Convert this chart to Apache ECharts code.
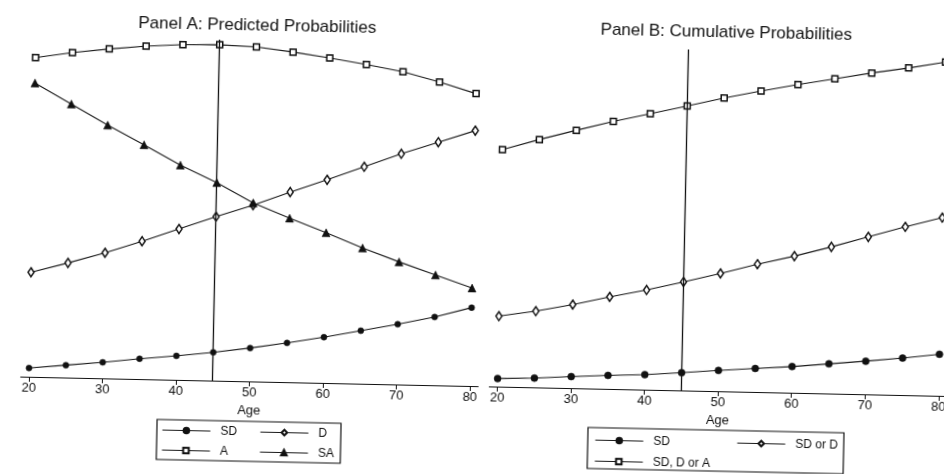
<!DOCTYPE html>
<html>
<head>
<meta charset="utf-8">
<script src="https://cdn.jsdelivr.net/npm/echarts@6/dist/echarts.min.js"></script>
<style>
  html, body { margin: 0; padding: 0; background: #fff; overflow: hidden; width: 944px; height: 474px; }
  #chart { width: 970px; height: 474px; transform: rotate(1.2deg); transform-origin: 472px 237px; }
</style>
</head>
<body>
<div id="chart"></div>
<script>
// Ages at which the model is evaluated, and the labelled ticks
const ages = [20, 25, 30, 35, 40, 45, 50, 55, 60, 65, 70, 75, 80];
const ageTicks = [20, 30, 40, 50, 60, 70, 80];
const refAge = 45;

// Panel A: predicted probability of each response
const probSD = [0.012, 0.017, 0.022, 0.028, 0.033, 0.039, 0.046, 0.054, 0.063, 0.073, 0.083, 0.094, 0.108];
const probD  = [0.144, 0.158, 0.173, 0.190, 0.208, 0.226, 0.243, 0.262, 0.280, 0.299, 0.318, 0.335, 0.352];
const probA  = [0.440, 0.448, 0.454, 0.459, 0.462, 0.463, 0.461, 0.455, 0.448, 0.440, 0.431, 0.418, 0.403];
const probSA = [0.405, 0.377, 0.349, 0.323, 0.296, 0.273, 0.246, 0.226, 0.207, 0.187, 0.169, 0.152, 0.135];

// Panel B: cumulative probabilities
const cumSD     = [0.021, 0.024, 0.030, 0.035, 0.039, 0.046, 0.054, 0.061, 0.068, 0.077, 0.086, 0.096, 0.108];
const cumSDorD  = [0.183, 0.198, 0.217, 0.239, 0.259, 0.282, 0.306, 0.332, 0.355, 0.381, 0.409, 0.437, 0.463];
const cumSDDorA = [0.616, 0.644, 0.670, 0.695, 0.717, 0.739, 0.762, 0.782, 0.801, 0.818, 0.835, 0.850, 0.867];

const titleA = 'Panel A: Predicted Probabilities';
const titleB = 'Panel B: Cumulative Probabilities';
const axisName = 'Age';

const ink = '#111';
const font = 'Liberation Sans, Arial, Helvetica, sans-serif';

function pairs(values) {
  return ages.map((a, i) => [a, values[i]]);
}

function lineSeries(name, values, panel, symbol, size, hollow) {
  return {
    name: name,
    type: 'line',
    xAxisIndex: panel,
    yAxisIndex: panel,
    data: pairs(values),
    symbol: symbol,
    symbolSize: size,
    showAllSymbol: true,
    clip: false,
    silent: true,
    lineStyle: { color: '#1a1a1a', width: 1.1 },
    itemStyle: hollow
      ? { color: '#fff', borderColor: ink, borderWidth: 1.5 }
      : { color: ink, borderColor: ink, borderWidth: 0.5 },
    z: 3
  };
}

function refLine() {
  return {
    silent: true,
    symbol: ['none', 'none'],
    label: { show: false },
    lineStyle: { color: ink, width: 1.3, type: 'solid' },
    data: [{ xAxis: refAge }]
  };
}

function xAxisFor(panel) {
  return {
    gridIndex: panel,
    type: 'value',
    min: 18.9,
    max: 81.1,
    axisLine: { lineStyle: { color: ink, width: 1.2 } },
    axisTick: { customValues: ageTicks, length: 5, lineStyle: { color: ink, width: 1 } },
    axisLabel: { customValues: ageTicks, fontSize: 13, color: ink, margin: 5, fontFamily: font },
    splitLine: { show: false },
    name: axisName,
    nameLocation: 'middle',
    nameGap: 18,
    nameTextStyle: { fontSize: 13, color: ink, fontFamily: font }
  };
}

function legendFor(names, left, top, gap) {
  return {
    data: names,
    orient: 'vertical',
    left: left,
    top: top,
    padding: 0,
    itemWidth: 48,
    itemHeight: 7,
    itemGap: gap,
    selectedMode: false,
    lineStyle: { width: 1, color: '#1a1a1a' },
    textStyle: { fontSize: 12, lineHeight: 12, color: ink, fontFamily: font, padding: [0, 0, 0, 5] }
  };
}

const sSD = lineSeries('SD', probSD, 0, 'circle', 6, false);
sSD.markLine = refLine();

const sCumSD = lineSeries('SD', cumSD, 1, 'circle', 7, false);
sCumSD.markLine = refLine();

const option = {
  animation: false,
  backgroundColor: '#fff',
  textStyle: { fontFamily: font },
  title: [
    { text: titleA, left: 253, top: 30, textAlign: 'center', textVerticalAlign: 'middle', padding: 0,
      textStyle: { fontSize: 17, fontWeight: 'normal', color: ink, fontFamily: font } },
    { text: titleB, left: 722, top: 27, textAlign: 'center', textVerticalAlign: 'middle', padding: 0,
      textStyle: { fontSize: 17, fontWeight: 'normal', color: ink, fontFamily: font } }
  ],
  grid: [
    { left: 23.8, top: 45, width: 457.4, height: 341, outerBoundsMode: 'none', containLabel: false },
    { left: 492.5, top: 45, width: 457.4, height: 341, outerBoundsMode: 'none', containLabel: false }
  ],
  xAxis: [xAxisFor(0), xAxisFor(1)],
  yAxis: [
    { gridIndex: 0, type: 'value', min: 0, max: 0.47, show: false },
    { gridIndex: 1, type: 'value', min: 0, max: 0.886, show: false }
  ],
  legend: [
    legendFor(['SD', 'A'], 166, 430.5, 8),
    legendFor(['D', 'SA'], 264, 430.5, 8),
    legendFor(['SD', 'SD, D or A'], 599, 431.5, 9),
    legendFor(['SD or D'], 741, 431.5, 9)
  ],
  graphic: [
    { type: 'rect', silent: true, shape: { x: 161, y: 426, width: 184, height: 40 },
      style: { fill: 'none', stroke: ink, lineWidth: 1.2 } },
    { type: 'rect', silent: true, shape: { x: 592, y: 425, width: 256, height: 41 },
      style: { fill: 'none', stroke: ink, lineWidth: 1.2 } }
  ],
  series: [
    sSD,
    lineSeries('D', probD, 0, 'diamond', [6, 9], true),
    lineSeries('A', probA, 0, 'rect', 6, true),
    lineSeries('SA', probSA, 0, 'triangle', 8, false),
    sCumSD,
    lineSeries('SD or D', cumSDorD, 1, 'diamond', [6, 9], true),
    lineSeries('SD, D or A', cumSDDorA, 1, 'rect', 6, true)
  ]
};

const chart = echarts.init(document.getElementById('chart'), null, { renderer: 'canvas' });
chart.setOption(option);
</script>
</body>
</html>
